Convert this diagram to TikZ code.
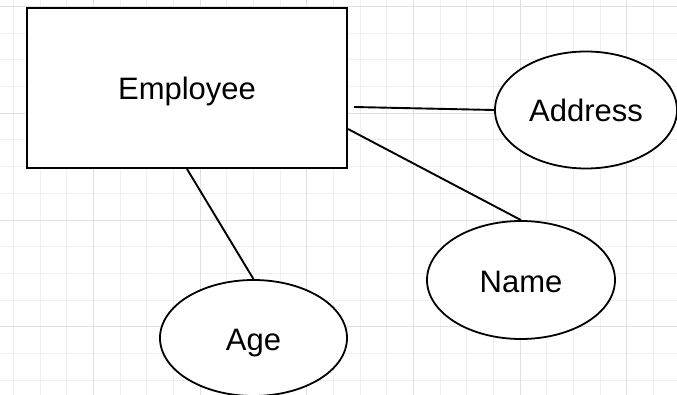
\documentclass[tikz,border=0pt]{standalone}
\usepackage{fontspec}
\setmainfont{Liberation Sans}
\usetikzlibrary{shapes.geometric}
\definecolor{gridminor}{HTML}{F0F0F0}
\definecolor{gridmajor}{HTML}{E0E0E0}
\tikzset{
  entity/.style={draw=black, line width=2pt, fill=white, rectangle, inner sep=0pt,
    minimum width=320pt, minimum height=160pt, text height=24pt, text depth=0pt,
    font=\fontsize{31}{37}\selectfont},
  attrib/.style={draw=black, line width=1.8pt, fill=white, ellipse, inner sep=0pt,
    text height=24pt, text depth=0pt, font=\fontsize{31}{37}\selectfont},
  conn/.style={draw=black, line width=1.9pt}
}
\begin{document}
\begin{tikzpicture}[x=1pt,y=-1pt]
\useasboundingbox (0,0) rectangle (677,395);
\fill[white] (0,0) rectangle (677,395);
% grid
\foreach \i in {0,...,25} {
  \draw[gridminor, line width=1pt] ({13.333+26.667*\i},0) -- ({13.333+26.667*\i},395);
}
\foreach \j in {0,...,14} {
  \draw[gridminor, line width=1pt] (0,{6.667+26.667*\j}) -- (677,{6.667+26.667*\j});
}
\foreach \i in {3,7,11,15,19,23} {
  \draw[gridmajor, line width=1pt] ({13.333+26.667*\i},0) -- ({13.333+26.667*\i},395);
}
\foreach \j in {0,4,8,12} {
  \draw[gridmajor, line width=1pt] (0,{6.667+26.667*\j}) -- (677,{6.667+26.667*\j});
}
% nodes
\node[entity] (emp) at (187,88) {Employee};
\node[attrib, minimum width=182pt, minimum height=117pt] (addr) at (586,110) {Address};
\node[attrib, minimum width=188pt, minimum height=118pt] (name) at (521,280) {Name};
\node[attrib, minimum width=187pt, minimum height=116pt] (age) at (253.5,338) {Age};
% connectors
\draw[conn] ([xshift=6pt,yshift=-19pt]emp.east) -- (addr.west);
\draw[conn] ([yshift=-41pt]emp.east) -- (name.north);
\draw[conn] (emp.south) -- (age.north);
\end{tikzpicture}
\end{document}
